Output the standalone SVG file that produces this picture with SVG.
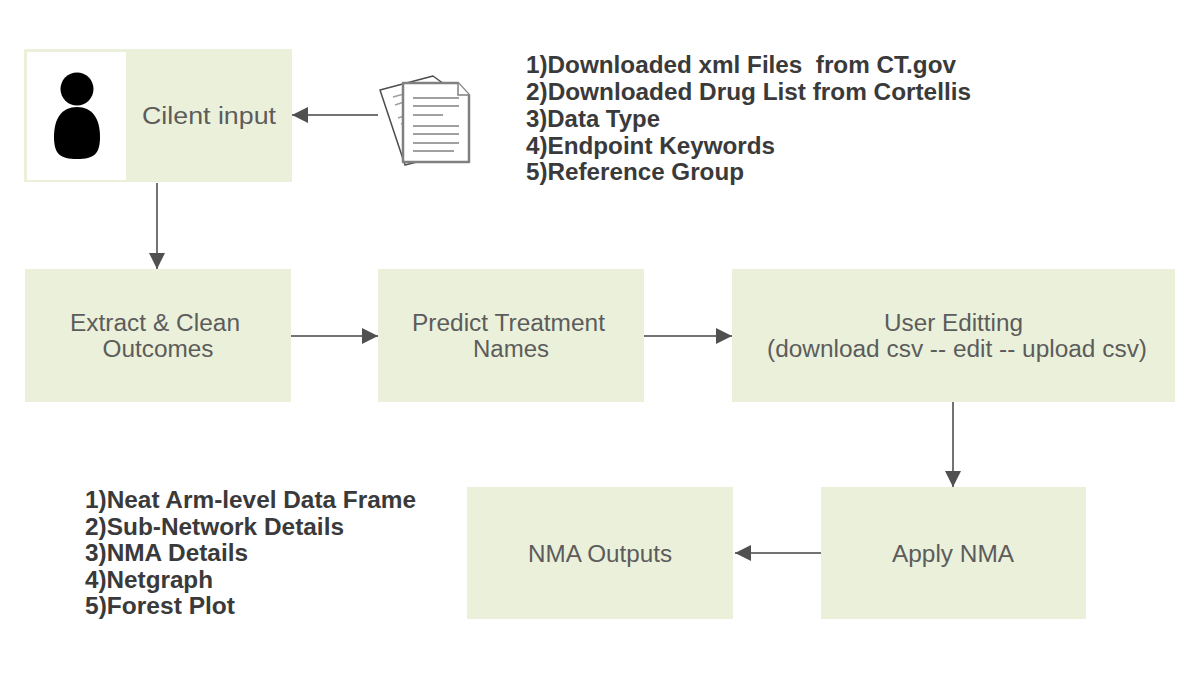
<svg xmlns="http://www.w3.org/2000/svg" width="1190" height="680" viewBox="0 0 1190 680">
<defs>
<marker id="ah" markerUnits="userSpaceOnUse" markerWidth="18" markerHeight="18" refX="17" refY="9" orient="auto"><path d="M1 1 L17 9 L1 17 Z" fill="#505050"/></marker>
</defs>
<style>
.box{fill:#ebf0da}
.t{font-family:"Liberation Sans",Arial,sans-serif;font-size:23px;fill:#5c5c5c;text-anchor:middle}
.b{font-family:"Liberation Sans",Arial,sans-serif;font-size:23px;font-weight:bold;fill:#3a3a3a}
.c{fill:none;stroke:#737373;stroke-width:2;marker-end:url(#ah)}
.back{fill:#fff;stroke:#4d4d4d;stroke-width:1.500;stroke-linejoin:round}
.doc{fill:#fff;stroke:#808080;stroke-width:2.500;stroke-linejoin:round}
.dl{stroke:#a0a0a0;stroke-width:1.800}
</style>
<rect width="1190" height="680" fill="#fff"/>
<g id="client">
<rect class="box" x="24" y="49" width="268" height="133"/>
<rect x="27" y="52" width="99" height="128" fill="#fff"/>
<circle cx="77" cy="89" r="16.500" fill="#000"/>
<path d="M77 107 C62 107 54 118 54 137 C54 154 60 159 77 159 C94 159 100 154 100 137 C100 118 92 107 77 107 Z" fill="#000"/>
<text class="t" x="209" y="124" textLength="134" lengthAdjust="spacingAndGlyphs">Cilent input</text>
</g>
<g id="documents">
<path class="back" d="M380 90 L433 76 L444 84 L444 155 L405 165 Z"/>
<path class="dl" d="M393 97 L404 94 M395 105 L404 102 M398 118 L404 116 M401 124 L404 123"/>
<path class="doc" d="M403 83 L458 83 L469 95 L469 162 L403 162 Z"/>
<path d="M458 83 L458 95 L469 95" fill="#fff" stroke="#808080" stroke-width="1.500"/>
<path class="dl" d="M413 98 L459 98 M413 106 L459 106 M413 115 L443 115 M413 126 L459 126 M413 134 L459 134 M413 143 L459 143 M413 151 L454 151"/>
</g>
<g id="extract">
<rect class="box" x="25" y="269" width="266" height="133"/>
<text class="t" x="155" y="331" textLength="170" lengthAdjust="spacingAndGlyphs">Extract &amp; Clean</text>
<text class="t" x="158" y="357" textLength="111" lengthAdjust="spacingAndGlyphs">Outcomes</text>
</g>
<g id="predict">
<rect class="box" x="378" y="269" width="266" height="133"/>
<text class="t" x="508.500" y="331" textLength="193" lengthAdjust="spacingAndGlyphs">Predict Treatment</text>
<text class="t" x="511" y="357" textLength="76" lengthAdjust="spacingAndGlyphs">Names</text>
</g>
<g id="editing">
<rect class="box" x="732" y="269" width="443" height="133"/>
<text class="t" x="953.500" y="331" textLength="139" lengthAdjust="spacingAndGlyphs">User Editting</text>
<text class="t" x="957" y="357" textLength="380" lengthAdjust="spacingAndGlyphs">(download csv -- edit -- upload csv)</text>
</g>
<g id="apply">
<rect class="box" x="821" y="487" width="265" height="132"/>
<text class="t" x="953" y="562" textLength="122" lengthAdjust="spacingAndGlyphs">Apply NMA</text>
</g>
<g id="outputs">
<rect class="box" x="467" y="487" width="266" height="132"/>
<text class="t" x="600" y="562" textLength="144" lengthAdjust="spacingAndGlyphs">NMA Outputs</text>
</g>
<g id="inputs-list">
<text class="b" x="526" y="73" xml:space="preserve" textLength="430" lengthAdjust="spacingAndGlyphs">1)Downloaded xml Files  from CT.gov</text>
<text class="b" x="526" y="100" textLength="445" lengthAdjust="spacingAndGlyphs">2)Downloaded Drug List from Cortellis</text>
<text class="b" x="526" y="127" textLength="134" lengthAdjust="spacingAndGlyphs">3)Data Type</text>
<text class="b" x="526" y="154" textLength="249" lengthAdjust="spacingAndGlyphs">4)Endpoint Keywords</text>
<text class="b" x="526" y="180" textLength="218" lengthAdjust="spacingAndGlyphs">5)Reference Group</text>
</g>
<g id="outputs-list">
<text class="b" x="85" y="508" textLength="331" lengthAdjust="spacingAndGlyphs">1)Neat Arm-level Data Frame</text>
<text class="b" x="85" y="535" textLength="259" lengthAdjust="spacingAndGlyphs">2)Sub-Network Details</text>
<text class="b" x="85" y="561" textLength="163" lengthAdjust="spacingAndGlyphs">3)NMA Details</text>
<text class="b" x="85" y="588" textLength="128" lengthAdjust="spacingAndGlyphs">4)Netgraph</text>
<text class="b" x="85" y="614" textLength="150" lengthAdjust="spacingAndGlyphs">5)Forest Plot</text>
</g>
<g id="connectors">
<path class="c" d="M378 115 L292 115"/>
<path class="c" d="M157 183 L157 269"/>
<path class="c" d="M291 336 L378 336"/>
<path class="c" d="M644 336 L732 336"/>
<path class="c" d="M953 402 L953 487"/>
<path class="c" d="M821 553 L735 553"/>
</g>
</svg>
